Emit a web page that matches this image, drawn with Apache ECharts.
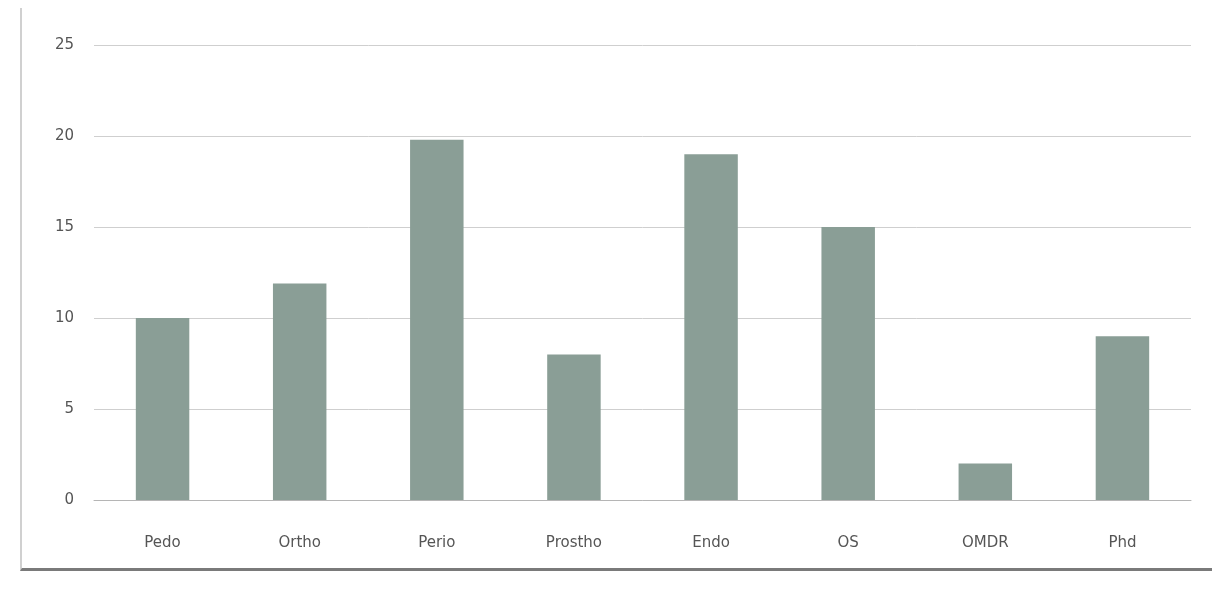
<!DOCTYPE html>
<html>
<head>
<meta charset="utf-8">
<script src="https://cdn.jsdelivr.net/npm/echarts@6/dist/echarts.min.js"></script>
<style>
html,body{margin:0;padding:0;background:#fff;}
#c{width:1221px;height:606px;}
#frame{position:absolute;left:20px;top:8px;width:1190px;height:560px;border-left:2px solid #d0d0d0;border-bottom:3px solid #7a7a7a;pointer-events:none;}
</style>
</head>
<body>
<div id="c"></div>
<div id="frame"></div>
<script>
const categories = ["Pedo", "Ortho", "Perio", "Prostho", "Endo", "OS", "OMDR", "Phd"];
const values = [10, 11.9, 19.8, 8, 19, 15, 2, 9];
const yTicks = [0, 5, 10, 15, 20, 25];

const chart = echarts.init(document.getElementById('c'));
chart.setOption({
  animation: false,
  grid: { left: 94, right: 30, top: 45, bottom: 106, containLabel: false },
  xAxis: {
    type: 'category',
    data: categories,
    axisLine: { lineStyle: { color: '#b5b5b5', width: 1 } },
    axisTick: { show: false },
    axisLabel: { color: '#555', fontSize: 15, fontFamily: 'DejaVu Sans', margin: 36 }
  },
  yAxis: {
    type: 'value',
    min: yTicks[0],
    max: yTicks[yTicks.length - 1],
    interval: 5,
    axisLine: { show: false },
    axisTick: { show: false },
    axisLabel: { color: '#555', fontSize: 15, fontFamily: 'DejaVu Sans', margin: 20 },
    splitLine: { lineStyle: { color: '#cfcfcf', width: 1 } }
  },
  series: [{
    type: 'bar',
    data: values,
    barWidth: '39%',
    itemStyle: { color: '#8a9e96' }
  }]
});
</script>
</body>
</html>
